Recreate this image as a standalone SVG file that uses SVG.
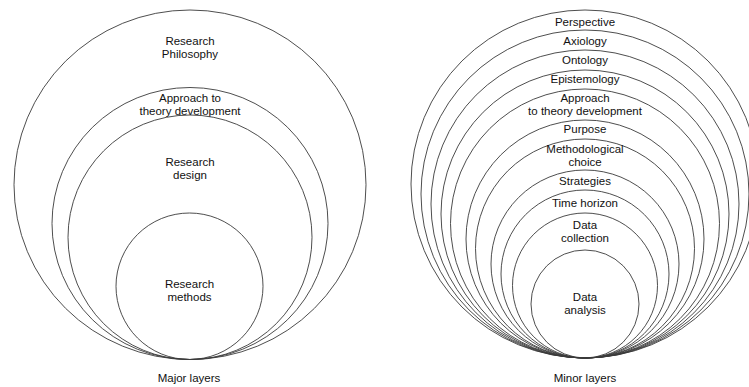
<svg xmlns="http://www.w3.org/2000/svg" width="749" height="387" viewBox="0 0 749 387">
  <style>
    .ring { fill: none; stroke: #3a3a3a; stroke-width: 0.9; }
    .lbl { font-family: "Liberation Sans", Arial, Helvetica, sans-serif; font-size: 11.5px; fill: #111; text-anchor: middle; }
  </style>
  <rect width="749" height="387" fill="#ffffff"/>

  <!-- Major layers: four nested rings sharing a bottom tangent point -->
  <g id="major">
    <g id="research-philosophy">
      <ellipse class="ring" cx="190" cy="184.75" rx="176" ry="174.75"/>
      <text class="lbl" x="190" y="45">Research</text>
      <text class="lbl" x="190" y="58">Philosophy</text>
    </g>
    <g id="approach-major">
      <ellipse class="ring" cx="190" cy="223.5" rx="138" ry="136"/>
      <text class="lbl" x="190" y="102">Approach to</text>
      <text class="lbl" x="190" y="115">theory development</text>
    </g>
    <g id="research-design">
      <ellipse class="ring" cx="190" cy="237.25" rx="122" ry="122.25"/>
      <text class="lbl" x="190" y="166">Research</text>
      <text class="lbl" x="190" y="179">design</text>
    </g>
    <g id="research-methods">
      <ellipse class="ring" cx="189.5" cy="286.25" rx="73.5" ry="73.25"/>
      <text class="lbl" x="189.5" y="288">Research</text>
      <text class="lbl" x="189.5" y="301">methods</text>
    </g>
    <text class="lbl" x="189" y="382">Major layers</text>
  </g>

  <!-- Minor layers: eleven nested rings sharing a bottom tangent point -->
  <g id="minor">
    <g id="perspective">
      <circle class="ring" cx="585" cy="184" r="174"/>
      <text class="lbl" x="585" y="25.5">Perspective</text>
    </g>
    <g id="axiology">
      <circle class="ring" cx="585" cy="194" r="164"/>
      <text class="lbl" x="585" y="44.5">Axiology</text>
    </g>
    <g id="ontology">
      <circle class="ring" cx="585" cy="204" r="154"/>
      <text class="lbl" x="585" y="64">Ontology</text>
    </g>
    <g id="epistemology">
      <circle class="ring" cx="585" cy="214" r="144"/>
      <text class="lbl" x="585" y="83">Epistemology</text>
    </g>
    <g id="approach-minor">
      <circle class="ring" cx="585" cy="223.5" r="134.5"/>
      <text class="lbl" x="585" y="101.5">Approach</text>
      <text class="lbl" x="585" y="115">to theory development</text>
    </g>
    <g id="purpose">
      <circle class="ring" cx="585" cy="239" r="119"/>
      <text class="lbl" x="585" y="133">Purpose</text>
    </g>
    <g id="methodological-choice">
      <circle class="ring" cx="585" cy="248.5" r="109.5"/>
      <text class="lbl" x="585" y="153">Methodological</text>
      <text class="lbl" x="585" y="166">choice</text>
    </g>
    <g id="strategies">
      <circle class="ring" cx="585" cy="264" r="94"/>
      <text class="lbl" x="585" y="185">Strategies</text>
    </g>
    <g id="time-horizon">
      <circle class="ring" cx="585" cy="274" r="84"/>
      <text class="lbl" x="585" y="207">Time horizon</text>
    </g>
    <g id="data-collection">
      <circle class="ring" cx="585" cy="285.5" r="72.5"/>
      <text class="lbl" x="585" y="229">Data</text>
      <text class="lbl" x="585" y="242">collection</text>
    </g>
    <g id="data-analysis">
      <circle class="ring" cx="585" cy="304" r="54"/>
      <text class="lbl" x="585" y="300.5">Data</text>
      <text class="lbl" x="585" y="314">analysis</text>
    </g>
    <text class="lbl" x="585" y="382">Minor layers</text>
  </g>

  <!-- no connectors in this figure -->
  <g id="connectors"/>
</svg>
